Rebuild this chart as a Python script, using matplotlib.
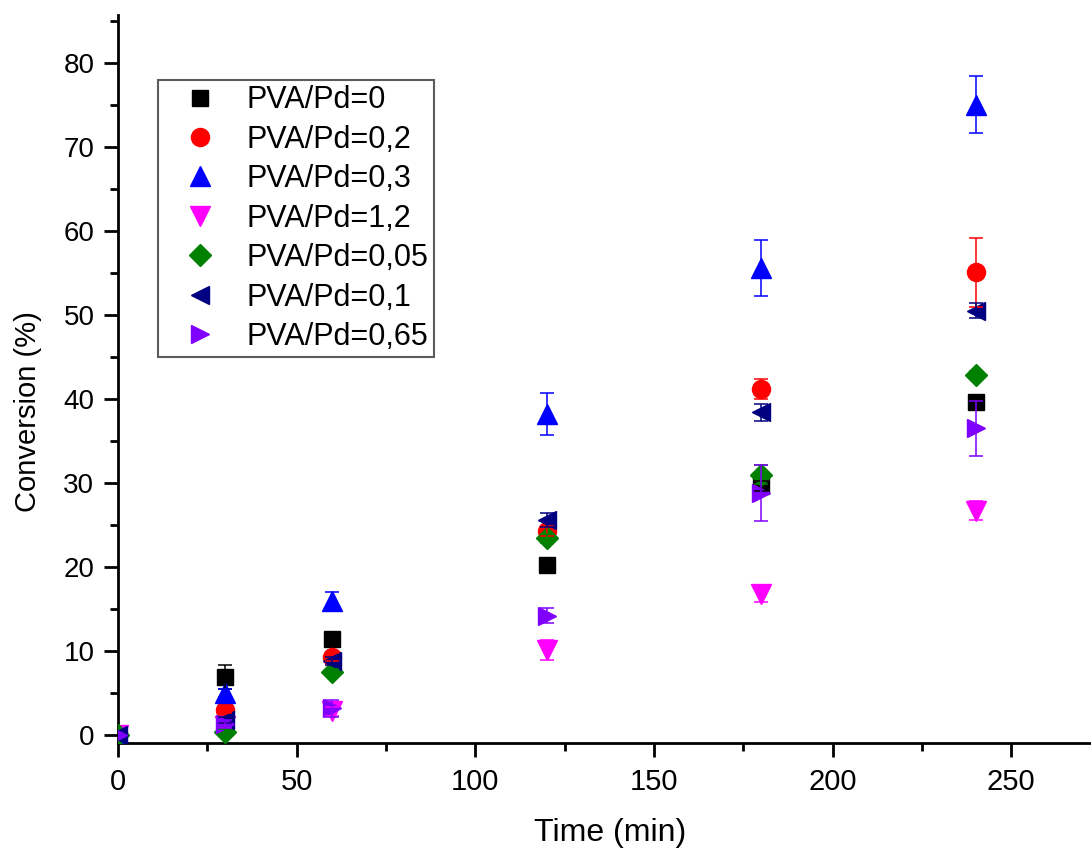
import matplotlib
matplotlib.use("Agg")
import matplotlib.pyplot as plt
from matplotlib.ticker import MultipleLocator

# Reaction time (min)
time_min = [0, 30, 60, 120, 180, 240]

labels = ["PVA/Pd=0", "PVA/Pd=0,2", "PVA/Pd=0,3", "PVA/Pd=1,2",
          "PVA/Pd=0,05", "PVA/Pd=0,1", "PVA/Pd=0,65"]

# Conversion (%) per PVA/Pd ratio
conv_0 = [0.0, 6.9, 11.4, 20.2, 29.6, 39.6]
conv_0_2 = [0.0, 3.0, 9.3, 24.3, 41.2, 55.1]
conv_0_3 = [0.0, 5.0, 16.0, 38.2, 55.6, 75.0]
conv_1_2 = [0.0, 1.1, 2.8, 10.1, 16.8, 26.7]
conv_0_05 = [0.0, 0.4, 7.5, 23.4, 31.0, 42.9]
conv_0_1 = [0.0, 1.8, 8.8, 25.6, 38.4, 50.5]
conv_0_65 = [0.0, 1.3, 3.2, 14.2, 28.8, 36.5]

# Standard deviations (%)
err_0 = [0.0, 1.4, 0.5, 0.4, 0.6, 0.5]
err_0_2 = [0.0, 0.4, 0.5, 0.6, 1.2, 4.1]
err_0_3 = [0.0, 0.5, 1.0, 2.5, 3.3, 3.4]
err_1_2 = [0.0, 0.3, 0.5, 1.2, 1.0, 1.1]
err_0_05 = [0.0, 0.3, 0.4, 0.5, 1.1, 0.4]
err_0_1 = [0.0, 0.4, 0.5, 0.8, 1.0, 0.9]
err_0_65 = [0.0, 0.5, 1.0, 0.9, 3.3, 3.3]

series = [conv_0, conv_0_2, conv_0_3, conv_1_2, conv_0_05, conv_0_1, conv_0_65]
errors = [err_0, err_0_2, err_0_3, err_1_2, err_0_05, err_0_1, err_0_65]

colors = ["#000000", "#FF0000", "#0000FF", "#FF00FF", "#008000", "#000080", "#8000FF"]
markers = ["s", "o", "^", "v", "D", "<", ">"]
sizes = [11, 13, 14, 14, 11, 13, 13]

W, H = 1091, 850
fig = plt.figure(figsize=(W / 100, H / 100), dpi=100)
ax = fig.add_axes([118 / W, 1 - 743 / H, 1 - 118 / W, (743 - 15) / H])

for y, e, c, m, s, lab in zip(series, errors, colors, markers, sizes, labels):
    ax.plot(time_min, y, linestyle="none", marker=m, markersize=s,
            color=c, markeredgecolor=c, label=lab, zorder=3)
    ax.errorbar(time_min, y, yerr=e, fmt="none", ecolor=c, elinewidth=1.1,
                capsize=5, capthick=1.1, zorder=4)

ax.set_xlim(0, (W - 118) / 3.573)
ax.set_ylim(-0.95, 85.7)

for side in ("top", "right"):
    ax.spines[side].set_visible(False)
for side in ("left", "bottom"):
    ax.spines[side].set_linewidth(2)

family = ["Liberation Sans", "DejaVu Sans"]

ax.xaxis.set_major_locator(MultipleLocator(50))
ax.xaxis.set_minor_locator(MultipleLocator(25))
ax.yaxis.set_major_locator(MultipleLocator(10))
ax.yaxis.set_minor_locator(MultipleLocator(5))
ax.tick_params(which="major", direction="out", length=10, width=2,
               labelfontfamily=family[0])
ax.tick_params(which="minor", direction="out", length=6, width=2)
ax.tick_params(axis="x", which="major", pad=8, labelsize=21)
ax.tick_params(axis="y", which="major", pad=7, labelsize=20)

ax.set_xlabel("Time (min)", fontsize=23, family=family, va="center")
ax.set_ylabel("Conversion (%)", fontsize=21, family=family, va="center")
ax.xaxis.set_label_coords((610 - 118) / 973, -(833 - 743) / 728)
ax.yaxis.set_label_coords((28 - 118) / 973, (743 - 412) / 728)

leg = ax.legend(loc="upper left", bbox_to_anchor=(158 / W, 1 - 80 / H),
                bbox_transform=fig.transFigure, borderaxespad=0,
                frameon=True, fancybox=False, edgecolor="#333333",
                prop={"family": family, "size": 22}, labelspacing=0.31,
                handletextpad=0.33, handlelength=2.4, borderpad=0.17,
                markerscale=1.0)
leg.get_frame().set_linewidth(1.5)

fig.savefig("out.png", dpi=100)
